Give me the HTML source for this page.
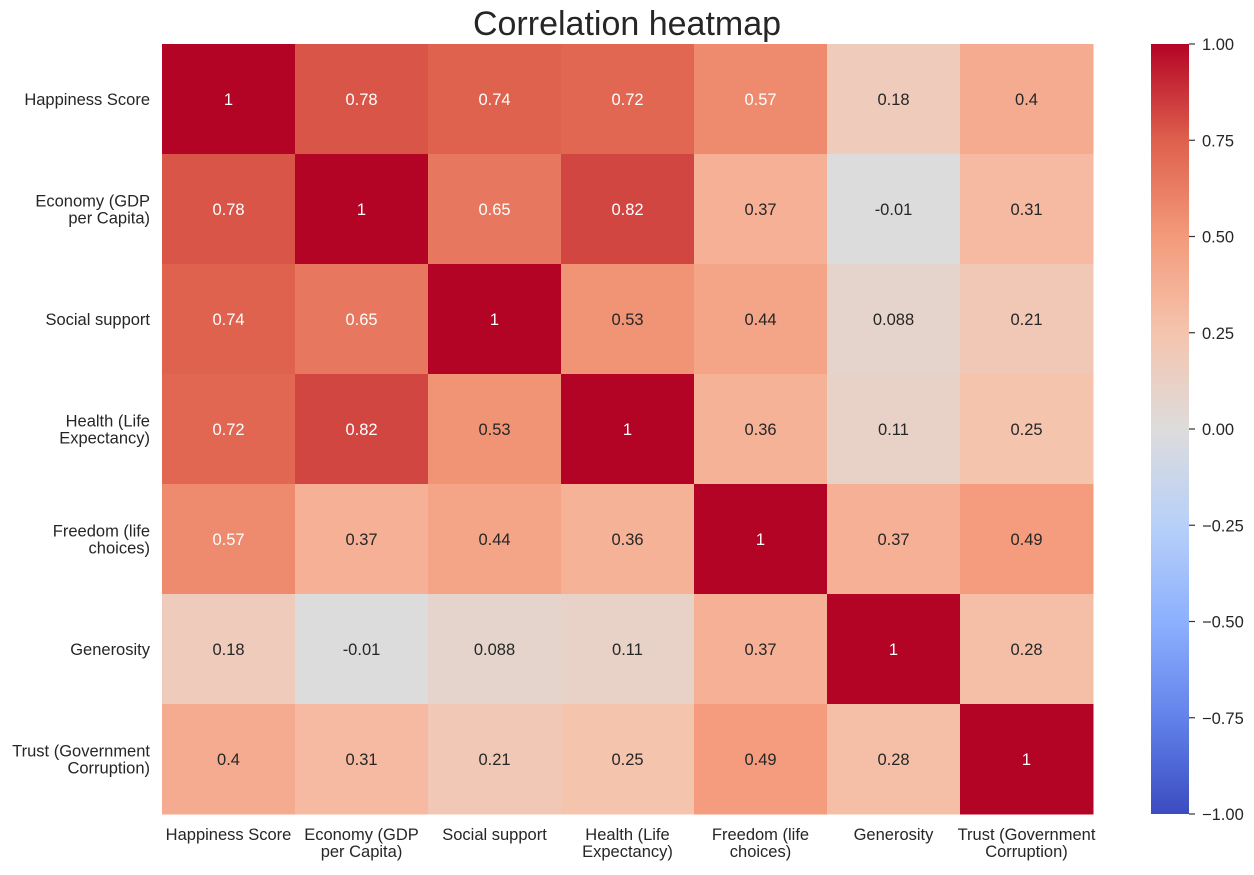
<!DOCTYPE html>
<html><head><meta charset="utf-8"><style>
body{margin:0;background:#fff;font-family:"Liberation Sans",sans-serif;}
</style></head><body>
<svg id="chart" width="1254" height="870" xmlns="http://www.w3.org/2000/svg" font-family="Liberation Sans, sans-serif">
<text x="627" y="35" font-size="34" text-anchor="middle" fill="#262626">Correlation heatmap</text>
<g id="cells"></g><g id="ylabels"></g><g id="xlabels"></g>
<defs><linearGradient id="cbg" x1="0" y1="1" x2="0" y2="0">
<stop offset="0" stop-color="rgb(59,76,192)"/><stop offset="0.125" stop-color="rgb(98,130,234)"/><stop offset="0.25" stop-color="rgb(141,176,254)"/><stop offset="0.375" stop-color="rgb(184,208,249)"/><stop offset="0.5" stop-color="rgb(221,220,220)"/><stop offset="0.625" stop-color="rgb(245,196,173)"/><stop offset="0.75" stop-color="rgb(244,154,123)"/><stop offset="0.875" stop-color="rgb(222,96,77)"/><stop offset="1" stop-color="rgb(180,4,38)"/>
</linearGradient></defs>
<rect x="1151" y="44" width="38" height="770" fill="url(#cbg)"/>
<g id="cbticks"></g>
</svg>
<script>
const labels=[["Happiness Score"],["Economy (GDP","per Capita)"],["Social support"],["Health (Life","Expectancy)"],["Freedom (life","choices)"],["Generosity"],["Trust (Government","Corruption)"]];
const row0=[1,0.78,0.74,0.72,0.57,0.18,0.4];
const row1=[0.78,1,0.65,0.82,0.37,-0.01,0.31];
const row2=[0.74,0.65,1,0.53,0.44,0.088,0.21];
const row3=[0.72,0.82,0.53,1,0.36,0.11,0.25];
const row4=[0.57,0.37,0.44,0.36,1,0.37,0.49];
const row5=[0.18,-0.01,0.088,0.11,0.37,1,0.28];
const row6=[0.4,0.31,0.21,0.25,0.49,0.28,1];
const matrix=[row0,row1,row2,row3,row4,row5,row6];
const cbTicks=[1,0.75,0.5,0.25,0,-0.25,-0.5,-0.75,-1];
const NS="http://www.w3.org/2000/svg";
const X0=162,Y0=44,CW=133,CH=110,CBT=44,CBB=814;
const xs=i=>X0+i*CW, ys=i=>Y0+i*CH, cy=v=>CBT+(1-v)/2*(CBB-CBT);
const stops=[[59,76,192],[98,130,234],[141,176,254],[184,208,249],[221,220,220],[245,196,173],[244,154,123],[222,96,77],[180,4,38]];
function cmap(v){let t=(v+1)/2*8;let i=Math.min(7,Math.floor(t));let f=t-i;const a=stops[i],b=stops[i+1];return `rgb(${a.map((c,k)=>Math.round(c+(b[k]-c)*f)).join(',')})`;}
function mk(tag,attrs,parent,txt){const e=document.createElementNS(NS,tag);for(const k in attrs)e.setAttribute(k,attrs[k]);if(txt!==undefined)e.textContent=txt;parent.appendChild(e);return e;}
const FS=16.5;
const cells=document.getElementById('cells');
matrix.forEach((row,r)=>row.forEach((v,c)=>{
 const rc=mk('rect',{x:xs(c),y:ys(r),width:CW+0.5,height:CH+0.5,fill:cmap(v)},cells);
 
 
 const t=mk('text',{x:xs(c)+CW/2,y:ys(r)+CH/2+6,'font-size':FS,'text-anchor':'middle',fill:Math.abs(v)>0.55?'#fff':'#262626'},cells,String(v));
 
 
}));
const yl=document.getElementById('ylabels'),xl=document.getElementById('xlabels');
labels.forEach((l,i)=>{
 const cyy=ys(i)+CH/2;
 l.forEach((s,j)=>{
  const t=mk('text',{x:150,y:cyy+6+(j-(l.length-1)/2)*17,'font-size':FS,'text-anchor':'end',fill:'#262626'},yl,s);
  
  
  const u=mk('text',{x:xs(i)+CW/2,y:840+j*17,'font-size':FS,'text-anchor':'middle',fill:'#262626'},xl,s);
  
  
 });
});
const cb=document.getElementById('cbticks');
cbTicks.forEach(v=>{
 const y=cy(v);
 const ln=mk('line',{x1:1189,x2:1195,y1:y,y2:y,stroke:'#333','stroke-width':1.2},cb);
 
 
 const t=mk('text',{x:1202,y:y+6,'font-size':FS,fill:'#262626'},cb,(v<0?'\u2212':'')+Math.abs(v).toFixed(2));
 
 
});
</script>
</body></html>
